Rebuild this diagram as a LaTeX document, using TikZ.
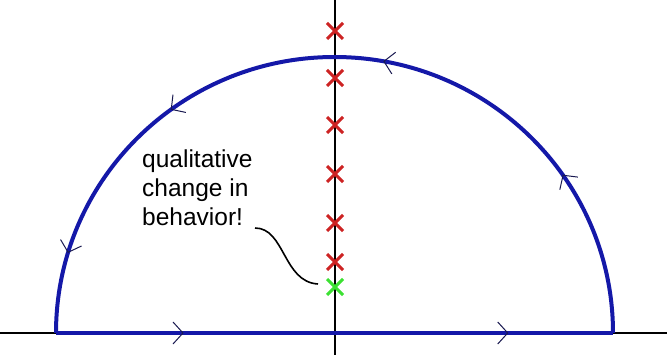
\documentclass[tikz,border=0pt]{standalone}
\usepackage{fontspec}
\setmainfont{Liberation Sans}
\usetikzlibrary{decorations.markings}
\definecolor{contour}{RGB}{20,24,168}
\definecolor{polered}{RGB}{205,35,35}
\definecolor{polegreen}{RGB}{60,225,50}
\definecolor{chev}{RGB}{25,25,80}
\tikzset{
  axis/.style={black, line width=1.8pt},
  contourline/.style={contour, line width=4pt},
  chevron/.style={chev, line width=1pt},
  pole/.style={line width=3pt},
  polemark/.pic={\draw[pole,#1] (-8,-8) -- (8,8) (-8,8) -- (8,-8);},
  note/.style={font=\fontsize{24.5}{29}\selectfont, align=left, inner sep=0pt, text=black},
  chev at/.style={postaction={decorate, decoration={markings,
     mark=at position #1 with {\draw[chevron] (-10,-11) -- (0,0) -- (-10,11);}}}}
}
\begin{document}
\begin{tikzpicture}[x=1pt,y=-1pt]
\useasboundingbox (0,0) rectangle (667,355);
% axes
\draw[axis] (0,333) coordinate (xl) -- (667,333) coordinate (xr);
\draw[axis] (335,0) coordinate (yt) -- (335,355) coordinate (yb);
% contour
\coordinate (L) at (56,333);
\coordinate (R) at (613,333);
\draw[contourline, chev at=0.228, chev at=0.811] (L) -- (R);
\draw[contourline, chev at=0.193, chev at=0.443, chev at=0.70, chev at=0.906]
  (R) arc[start angle=0, end angle=-180, x radius=278.5, y radius=276];
% poles
\foreach \yy/\nm in {31/p1,78/p2,125/p3,174/p4,223/p5,262/p6}
  \pic (\nm) at (335,\yy) {polemark=polered};
\pic (g) at (335,287) {polemark=polegreen};
\coordinate (gtip) at (318,284);
% note
\node[note, anchor=north west] (txt) at (142,150) {qualitative\\change in\\behavior!};
\coordinate (c1) at (255,228);
\draw[black, line width=1.6pt] (c1) .. controls (285,228) and (283,282) .. (gtip);
\end{tikzpicture}
\end{document}
